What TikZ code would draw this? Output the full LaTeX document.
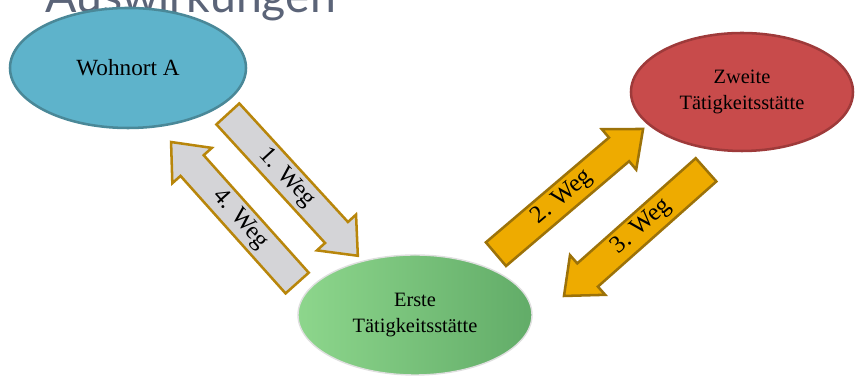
\documentclass[tikz,border=0pt]{standalone}
\usepackage{fontspec}
\setmainfont{Liberation Serif}
\newfontfamily\titlefont{Lato}
\usetikzlibrary{shapes.geometric,shapes.arrows}

\definecolor{wohnblau}{HTML}{5EB3CB}
\definecolor{wohnrand}{HTML}{4A8898}
\definecolor{zweitrot}{HTML}{C84B4B}
\definecolor{zweitrand}{HTML}{9E3A3A}
\definecolor{ersthell}{HTML}{8DD68C}
\definecolor{erstdunkel}{HTML}{62AC68}
\definecolor{wegrand}{HTML}{B8860B}
\definecolor{weggrau}{HTML}{D4D4D7}
\definecolor{weggold}{HTML}{EEAB00}
\definecolor{titelgrau}{HTML}{5B6478}

\tikzset{
  ort/.style={ellipse, line width=1.8pt, align=center, inner sep=0pt},
  weg/.style={single arrow, line width=1.8pt, draw=wegrand,
    font=\fontsize{17.5}{20}\selectfont, text height=11pt, text depth=3.5pt,
    inner xsep=4pt, inner ysep=2.9pt, single arrow head extend=7.8pt,
    single arrow tip angle=80, anchor=tail},
  grauweg/.style={weg, fill=weggrau},
  goldweg/.style={weg, fill=weggold, draw=wegrand!85!black}
}

\begin{document}
\begin{tikzpicture}
\clip (0, 0) rectangle (21.375, 9.475);
\useasboundingbox (0, 0) rectangle (21.375, 9.475);

\node[anchor=base west, inner sep=0pt, text=titelgrau,
  font=\titlefont\fontsize{33}{36}\selectfont] (titel) at (1.125, 9.15) {Auswirkungen};

\node[ort, fill=wohnblau, draw=wohnrand, minimum width=5.9cm, minimum height=3cm,
  font=\fontsize{16.5}{19}\selectfont] (wohnort) at (3.2, 7.775) {Wohnort A};
\node[ort, fill=zweitrot, draw=zweitrand, minimum width=5.55cm, minimum height=2.95cm,
  font=\fontsize{14.5}{18}\selectfont] (zweite) at (18.55, 7.175) {Zweite\\Tätigkeitsstätte};
\node[ort, left color=ersthell, right color=erstdunkel, draw=gray!25, line width=1pt,
  minimum width=5.85cm, minimum height=3cm,
  font=\fontsize{14.5}{18}\selectfont] (erste) at (10.375, 1.6) {Erste\\Tätigkeitsstätte};

\node[grauweg, rotate=-47.5, minimum height=4.81cm] (weg1) at (5.675, 6.65) {1. Weg};
\node[grauweg, rotate=-48.2, shape border rotate=180, minimum height=4.73cm] (weg4) at (7.45, 2.375) {4. Weg};
\node[goldweg, rotate=40.4, minimum height=4.83cm] (weg2) at (12.375, 3.1) {2. Weg};
\node[goldweg, rotate=41.6, shape border rotate=180, minimum height=4.75cm] (weg3) at (17.675, 5.25) {3. Weg};

\end{tikzpicture}
\end{document}
